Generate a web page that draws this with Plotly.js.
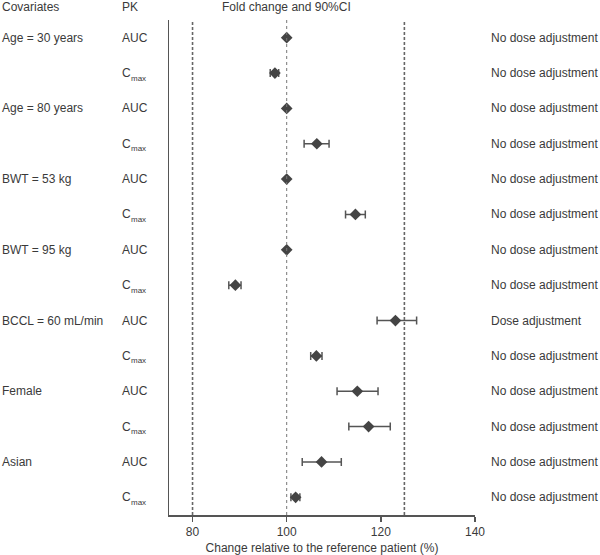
<!DOCTYPE html>
<html>
<head>
<meta charset="utf-8">
<script src="https://cdn.plot.ly/plotly-3.0.1.min.js"></script>
<style>html,body{margin:0;padding:0;background:#fff}#chart{width:600px;height:555px}</style>
</head>
<body>
<div id="chart"></div>
<script>
// Data
const covariates = ["Age = 30 years", "", "Age = 80 years", "", "BWT = 53 kg", "", "BWT = 95 kg", "", "BCCL = 60 mL/min", "", "Female", "", "Asian", ""];
const pkMain = ["AUC", "C", "AUC", "C", "AUC", "C", "AUC", "C", "AUC", "C", "AUC", "C", "AUC", "C"];
const pkSub = ["", "max", "", "max", "", "max", "", "max", "", "max", "", "max", "", "max"];
const foldChange = [100.0, 97.5, 100.0, 106.4, 100.0, 114.6, 100.0, 89.1, 123.1, 106.3, 115.0, 117.4, 107.4, 101.9];
const ciLower =    [100.0, 96.5, 100.0, 103.7, 100.0, 112.5, 100.0, 87.7, 119.2, 105.1, 110.7, 113.2, 103.3, 100.9];
const ciUpper =    [100.0, 98.3, 100.0, 109.0, 100.0, 116.7, 100.0, 90.3, 127.6, 107.5, 119.4, 122.0, 111.6, 102.8];
const recommendation = ["No dose adjustment", "No dose adjustment", "No dose adjustment", "No dose adjustment", "No dose adjustment", "No dose adjustment", "No dose adjustment", "No dose adjustment", "Dose adjustment", "No dose adjustment", "No dose adjustment", "No dose adjustment", "No dose adjustment", "No dose adjustment"];
const referenceLines = [80, 125];
const noEffectLine = 100;
const xTicks = [80, 100, 120, 140];

const rows = foldChange.map((_, i) => i);
const textColor = "#3a3a3a";
const fontFamily = "Liberation Sans, Arial, sans-serif";

const trace = {
  type: "scatter",
  mode: "markers",
  x: foldChange,
  y: rows,
  marker: {symbol: "diamond", size: 9, color: "#444"},
  error_x: {
    type: "data",
    symmetric: false,
    array: foldChange.map((v, i) => ciUpper[i] - v),
    arrayminus: foldChange.map((v, i) => v - ciLower[i]),
    color: "#555",
    thickness: 1.5,
    width: 4
  },
  hoverinfo: "x",
  showlegend: false
};

const annotations = [];
const baseFont = {family: fontFamily, size: 12, color: textColor};
const subFont = {family: fontFamily, size: 8, color: textColor};
annotations.push({text: "Covariates", xref: "paper", yref: "paper", x: -0.552, y: 1.026, xanchor: "left", yanchor: "middle", showarrow: false, font: baseFont});
annotations.push({text: "PK", xref: "paper", yref: "paper", x: -0.1585, y: 1.026, xanchor: "left", yanchor: "middle", showarrow: false, font: baseFont});
annotations.push({text: "Fold change and 90%CI", xref: "x", yref: "paper", x: noEffectLine, y: 1.026, xanchor: "center", yanchor: "middle", showarrow: false, font: baseFont});
rows.forEach(i => {
  if (covariates[i]) annotations.push({text: covariates[i], xref: "paper", yref: "y", x: -0.552, y: i, xanchor: "left", yanchor: "middle", showarrow: false, font: baseFont});
  annotations.push({text: pkMain[i], xref: "paper", yref: "y", x: -0.1585, y: i, xanchor: "left", yanchor: "middle", showarrow: false, font: baseFont});
  if (pkSub[i]) annotations.push({text: pkSub[i], xref: "paper", yref: "y", x: -0.1585, y: i, xanchor: "left", yanchor: "middle", xshift: 9, yshift: -5, showarrow: false, font: subFont});
  annotations.push({text: recommendation[i], xref: "paper", yref: "y", x: 1.046, y: i, xanchor: "left", yanchor: "middle", showarrow: false, font: baseFont});
});

const shapes = referenceLines.map(v => ({
  type: "line", xref: "x", yref: "paper", x0: v, x1: v, y0: 0, y1: 1,
  line: {color: "#666", width: 1.6, dash: "3px,2px"}
}));
shapes.push({type: "line", xref: "x", yref: "paper", x0: noEffectLine, x1: noEffectLine, y0: 0, y1: 1,
  line: {color: "#777", width: 1, dash: "dot"}});

const layout = {
  width: 600, height: 555,
  margin: {l: 169, r: 125, t: 20, b: 40},
  paper_bgcolor: "#fff", plot_bgcolor: "#fff",
  font: {family: fontFamily, size: 12, color: textColor},
  xaxis: {
    range: [75, 140], tickvals: xTicks, ticktext: xTicks.map(String),
    showgrid: false, zeroline: false, showline: true, linecolor: "#555", linewidth: 1.5,
    ticks: "outside", ticklen: 5, tickwidth: 1.5, tickcolor: "#555",
    tickfont: {family: fontFamily, size: 12, color: textColor},
    title: {text: "Change relative to the reference patient (%)", font: {family: fontFamily, size: 12, color: textColor}, standoff: 5}
  },
  yaxis: {
    range: [13.5, -0.5], showgrid: false, zeroline: false, showticklabels: false,
    showline: true, linecolor: "#555", linewidth: 1.5, ticks: ""
  },
  shapes: shapes,
  annotations: annotations
};

Plotly.newPlot("chart", [trace], layout, {displayModeBar: false, staticPlot: true});
</script>
</body>
</html>
